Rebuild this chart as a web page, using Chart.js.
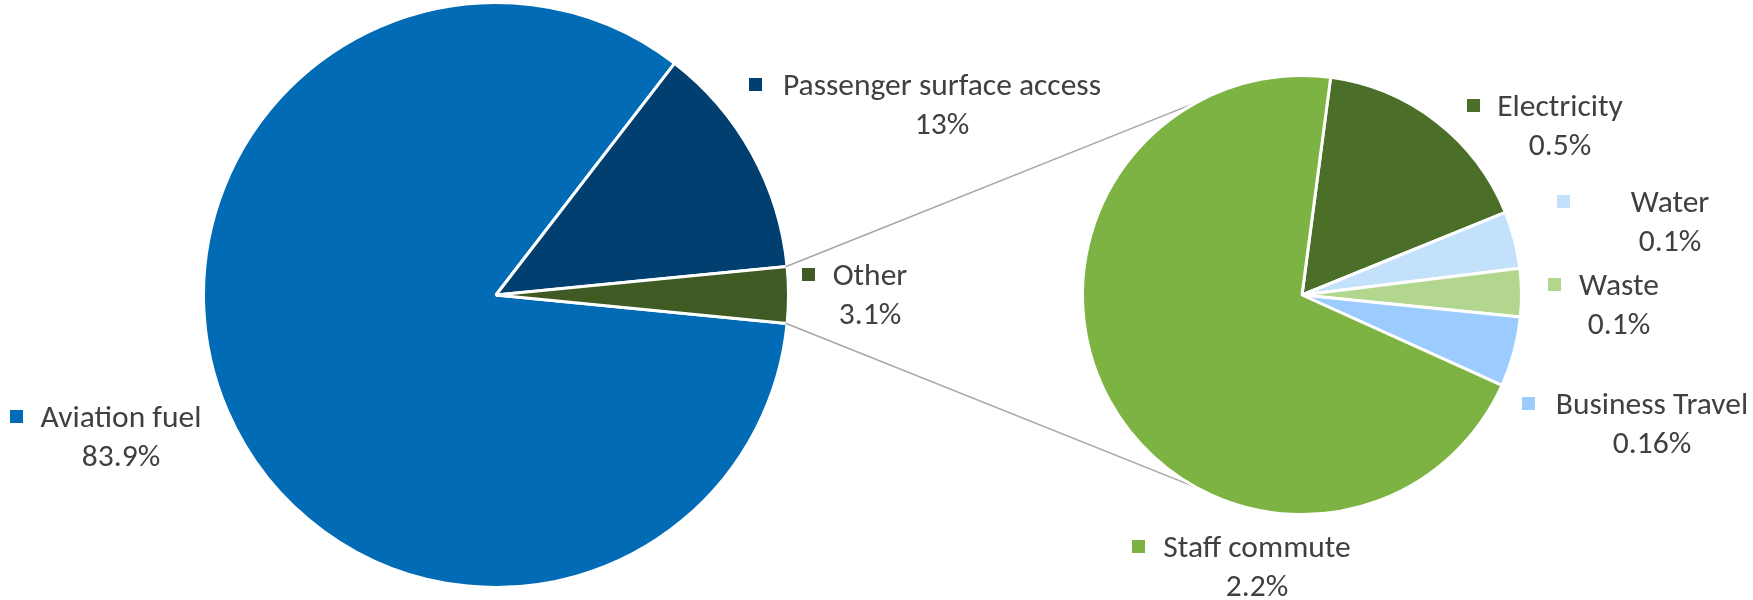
<!DOCTYPE html>
<html>
<head>
<meta charset="utf-8">
<script src="https://cdn.jsdelivr.net/npm/chart.js@4"></script>
<style>
  html, body { margin: 0; padding: 0; background: #fff; }
  #wrap { position: relative; width: 1753px; height: 600px; }
  #wrap canvas { position: absolute; left: 0; top: 0; }
</style>
</head>
<body>
<div id="wrap">
  <canvas id="mainPie" width="1753" height="600"></canvas>
  <canvas id="otherPie" width="1753" height="600"></canvas>
</div>
<script>
// Main pie
const mainLabels = ['Aviation fuel', 'Passenger surface access', 'Other'];
const mainValues = [83.9, 13, 3.1];
const mainText = ['83.9%', '13%', '3.1%'];
const mainColors = ['#016BB6', '#003F6F', '#3F5A22'];

// Breakdown of "Other"
const otherLabels = ['Electricity', 'Water', 'Waste', 'Business Travel', 'Staff commute'];
const otherValues = [0.52, 0.13, 0.11, 0.16, 2.18];
const otherText = ['0.5%', '0.1%', '0.1%', '0.16%', '2.2%'];
const otherColors = ['#4B6F29', '#C4E1FC', '#B3D68E', '#9CCCFD', '#7DB343'];

// label placement: [text centre x, first baseline y, key square left x]
const mainLabelPos = [[121, 427, 10], [942, 95, 749], [870, 285, 802]];
const otherLabelPos = [[1560, 116, 1467], [1670, 212, 1557], [1619, 295, 1548], [1652, 414, 1522], [1257, 557, 1132]];

const BORDER = 3;
const FONT = '31.5px Carlito, Calibri, Lato, sans-serif';
const TEXT_COLOR = '#404040';

function dataLabels(labels, texts, colors, pos) {
    return {
        id: 'dataLabels',
        afterDraw(chart) {
            const ctx = chart.ctx;
            ctx.save();
            ctx.font = FONT;
            ctx.textAlign = 'center';
            ctx.textBaseline = 'alphabetic';
            labels.forEach((label, i) => {
                const [cx, y, kx] = pos[i];
                ctx.fillStyle = colors[i];
                ctx.fillRect(kx, y - 17, 13, 13);
                ctx.fillStyle = TEXT_COLOR;
                ctx.fillText(label, cx, y);
                ctx.fillText(texts[i], cx, y + 39);
            });
            ctx.restore();
        }
    };
}

function pieConfig(labels, values, colors, rotation, radius, padding) {
    return {
        type: 'pie',
        data: {
            labels: labels,
            datasets: [{
                data: values,
                backgroundColor: colors,
                borderColor: '#ffffff',
                borderWidth: BORDER,
            }]
        },
        options: {
            responsive: false,
            animation: false,
            devicePixelRatio: 1,
            rotation: rotation,
            radius: radius,
            layout: { padding: padding },
            plugins: {
                legend: { display: false },
                tooltip: { enabled: false },
            },
        },
    };
}

// "Other" slice is centred on the horizontal, facing the second pie
const mainTotal = mainValues.reduce((a, b) => a + b, 0);
const mainRotation = 90 + mainValues[2] / mainTotal * 180;

const mainCfg = pieConfig(mainLabels, mainValues, mainColors, mainRotation, 291 + BORDER / 2,
    { left: 0, right: 761, top: 0, bottom: 10 });
mainCfg.plugins = [dataLabels(mainLabels, mainText, mainColors, mainLabelPos)];
const mainChart = new Chart(document.getElementById('mainPie'), mainCfg);

// tangent lines from the corners of "Other" to the second pie
const connectors = {
    id: 'connectors',
    beforeDatasetsDraw(chart) {
        const src = mainChart.getDatasetMeta(0).data[2];
        const dst = chart.getDatasetMeta(0).data[0];
        const r1 = src.outerRadius - BORDER / 2;
        const r2 = dst.outerRadius - BORDER / 2;
        const ctx = chart.ctx;
        ctx.save();
        ctx.strokeStyle = '#A6A6A6';
        ctx.lineWidth = 1.5;
        ctx.beginPath();
        [src.startAngle, src.endAngle].forEach((a, k) => {
            const px = src.x + r1 * Math.cos(a);
            const py = src.y + r1 * Math.sin(a);
            const dx = dst.x - px, dy = dst.y - py;
            const d = Math.hypot(dx, dy);
            const phi = Math.atan2(dy, dx);
            const alpha = Math.asin(r2 / d);
            const dir = k === 0 ? phi - alpha : phi + alpha;
            const len = Math.sqrt(d * d - r2 * r2);
            ctx.moveTo(px, py);
            ctx.lineTo(px + len * Math.cos(dir), py + len * Math.sin(dir));
        });
        ctx.stroke();
        ctx.restore();
    }
};

const otherCfg = pieConfig(otherLabels, otherValues, otherColors, 7.5, 218 + BORDER / 2,
    { left: 851, right: 0, top: 0, bottom: 10 });
otherCfg.plugins = [connectors, dataLabels(otherLabels, otherText, otherColors, otherLabelPos)];
const otherChart = new Chart(document.getElementById('otherPie'), otherCfg);
</script>
</body>
</html>
